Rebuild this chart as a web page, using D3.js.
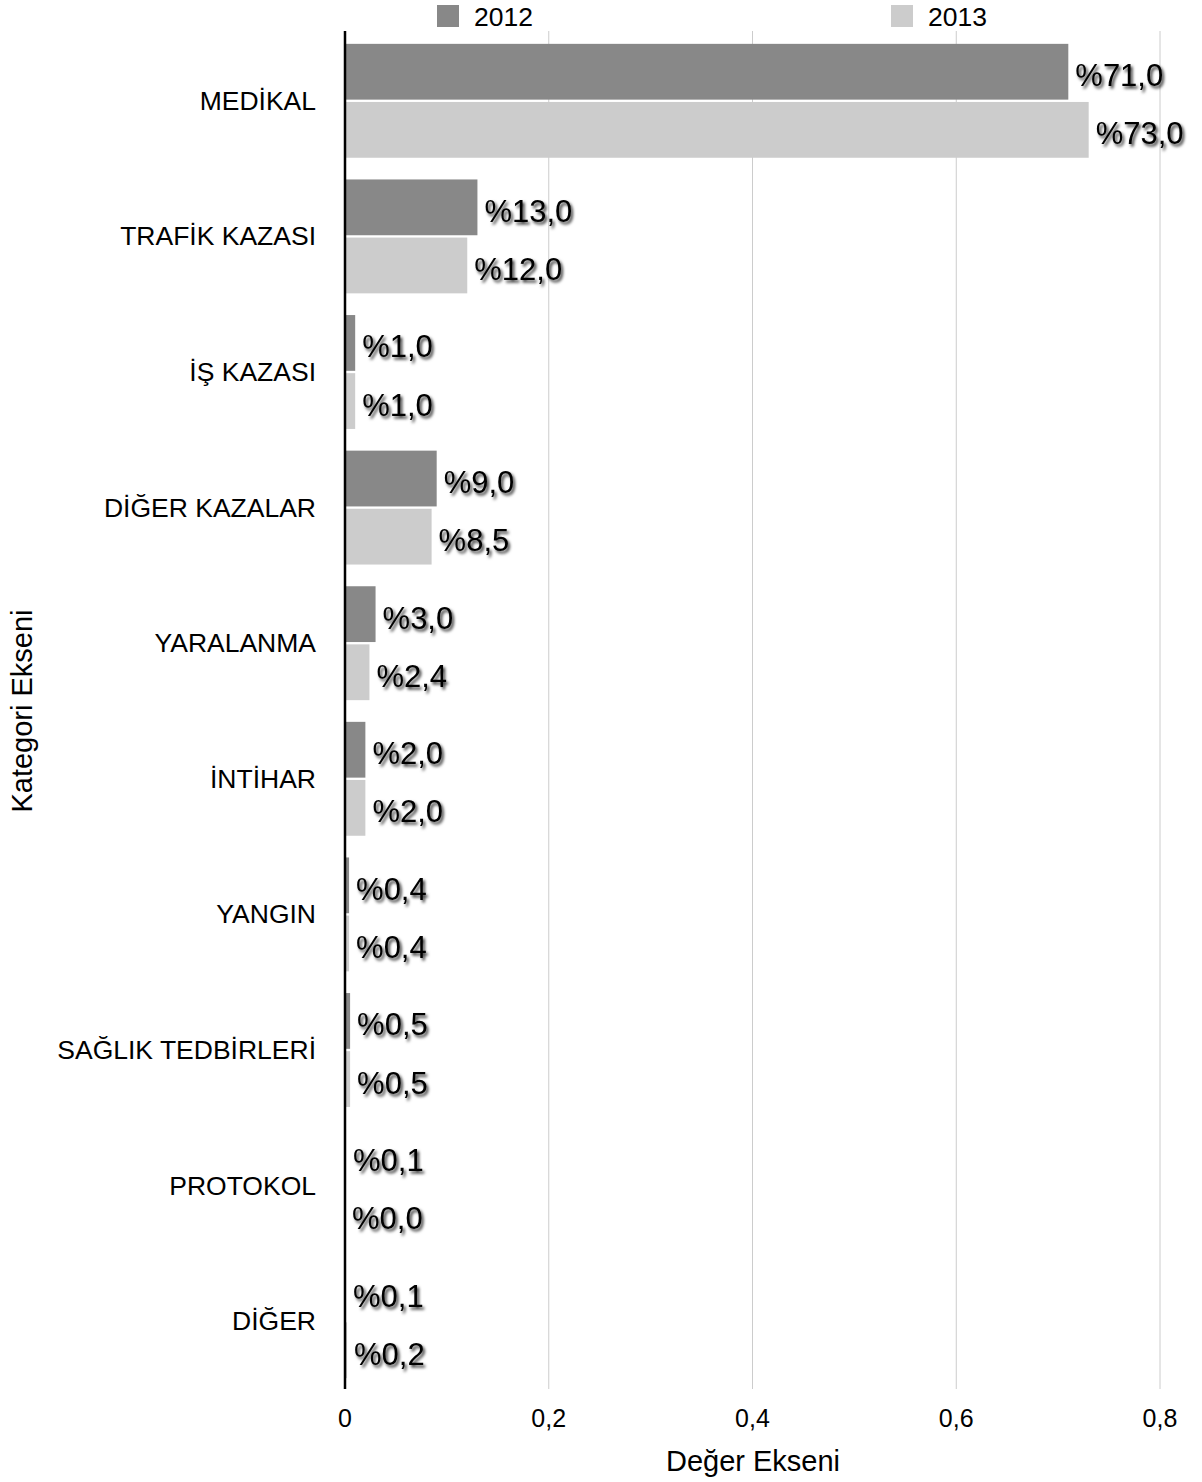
<!DOCTYPE html>
<html><head><meta charset="utf-8">
<script src="https://cdn.jsdelivr.net/npm/d3@7"></script>
<style>body{margin:0;background:#fff}svg{display:block}text{font-family:"Liberation Sans",Arial,Helvetica,sans-serif}</style>
</head><body>
<script>
const categories = ["MEDİKAL","TRAFİK KAZASI","İŞ KAZASI","DİĞER KAZALAR","YARALANMA","İNTİHAR","YANGIN","SAĞLIK TEDBİRLERİ","PROTOKOL","DİĞER"];
const seriesNames = ["2012","2013"];
const values2012 = [0.71,0.13,0.01,0.09,0.03,0.02,0.004,0.005,0.001,0.001];
const values2013 = [0.73,0.12,0.01,0.085,0.024,0.02,0.004,0.005,0.000,0.002];
const xTicks = [0,0.2,0.4,0.6,0.8];
const xTickLabels = ["0","0,2","0,4","0,6","0,8"];
const colors = ["#888888","#cccccc"];

(function(){
const W=1202,H=1482;
const svg=d3.select("body").append("svg").attr("width",W).attr("height",H);
const defs=svg.append("defs");
const f=defs.append("filter").attr("id","sh").attr("x","-20%").attr("y","-30%").attr("width","140%").attr("height","160%");
f.append("feDropShadow").attr("dx",2).attr("dy",2.5).attr("stdDeviation",1.8).attr("flood-color","#000").attr("flood-opacity",0.8);

const x=d3.scaleLinear().domain([0,0.8]).range([345,1160]);
const y=d3.scaleBand().domain(categories).range([33,1389]).paddingInner(0.16).paddingOuter(0.08);
const ys=d3.scaleBand().domain(seriesNames).range([0,y.bandwidth()]).paddingInner(0.04);
const yTop=31,yBot=1389;

svg.append("g").selectAll("line").data(xTicks.slice(1)).join("line")
  .attr("x1",d=>x(d)).attr("x2",d=>x(d)).attr("y1",yTop).attr("y2",yBot)
  .attr("stroke","#cccccc").attr("stroke-width",1);

const data=[];
categories.forEach((c,i)=>{data.push({c,s:"2012",v:values2012[i]});data.push({c,s:"2013",v:values2013[i]});});

svg.append("g").selectAll("rect").data(data).join("rect")
  .attr("x",x(0)).attr("y",d=>y(d.c)+ys(d.s)).attr("width",d=>x(d.v)-x(0)).attr("height",ys.bandwidth())
  .attr("fill",d=>colors[seriesNames.indexOf(d.s)]);

const fmt=v=>"%"+(v*100).toFixed(1).replace(".",",");
svg.append("g").selectAll("text").data(data).join("text")
  .attr("x",d=>x(d.v)+7).attr("y",d=>y(d.c)+ys(d.s)+ys.bandwidth()/2+4)
  .attr("dominant-baseline","central").attr("font-size",31).attr("fill","#000")
  .attr("filter","url(#sh)").text(d=>fmt(d.v));

svg.append("line").attr("x1",x(0)).attr("x2",x(0)).attr("y1",yTop).attr("y2",yBot).attr("stroke","#000").attr("stroke-width",2.5);

svg.append("g").selectAll("text").data(categories).join("text")
  .attr("x",316).attr("y",d=>y(d)+y.bandwidth()/2).attr("dominant-baseline","central")
  .attr("text-anchor","end").attr("font-size",26.5).attr("fill","#000").text(d=>d);

svg.append("g").selectAll("text").data(xTicks).join("text")
  .attr("x",d=>x(d)).attr("y",1418).attr("dominant-baseline","central").attr("text-anchor","middle")
  .attr("font-size",25).text((d,i)=>xTickLabels[i]);

svg.append("text").attr("x",753).attr("y",1461).attr("dominant-baseline","central").attr("text-anchor","middle").attr("font-size",29).text("Değer Ekseni");
svg.append("text").attr("transform","translate(22,711) rotate(-90)").attr("dominant-baseline","central").attr("text-anchor","middle").attr("font-size",29).text("Kategori Ekseni");

const lx=[437,891];
const lg=svg.append("g").selectAll("g").data(seriesNames).join("g").attr("transform",(d,i)=>`translate(${lx[i]},5)`);
lg.append("rect").attr("width",22).attr("height",22).attr("fill",(d,i)=>colors[i]);
lg.append("text").attr("x",37).attr("y",12).attr("dominant-baseline","central").attr("font-size",26.5).text(d=>d);
})();
</script>
</body></html>
